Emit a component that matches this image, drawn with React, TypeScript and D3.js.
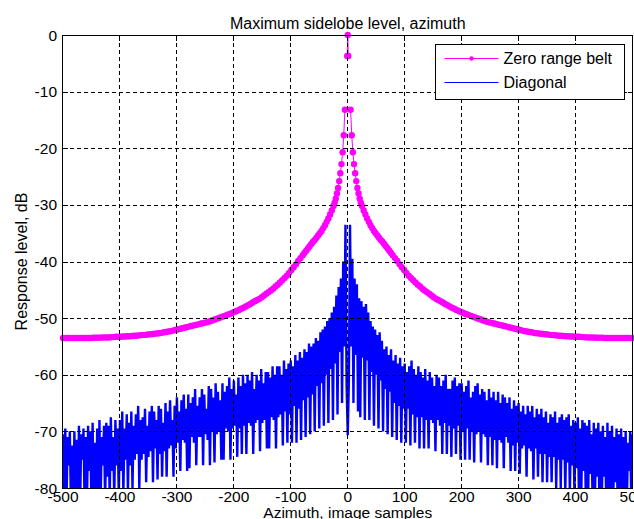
import React from 'react';
import * as d3 from 'd3';

const W = 634;
const H = 519;
const PLOT = { left: 63, right: 632.5, top: 35, bottom: 488 };
const FONT = '"Liberation Sans", Arial, Helvetica, sans-serif';
const FS = 16;
const FS_AXIS = 15.5;

const titleText = 'Maximum sidelobe level, azimuth';
const xLabelText = 'Azimuth, image samples';
const yLabelText = 'Response level, dB';
const seriesNames = ['Zero range belt', 'Diagonal'];
const seriesColors = ['#ff00ff', '#0000ff'];

const xTicks = [-500, -400, -300, -200, -100, 0, 100, 200, 300, 400, 500];
const yTicks = [0, -10, -20, -30, -40, -50, -60, -70, -80];

// Zero range belt: symmetric sidelobe-peak profile (offset in samples from 0, level in dB)
const beltOffsets = [
  0, 1, 3, 5, 7, 9, 11, 13, 15, 17, 19, 21, 23, 25,
  28, 31, 34, 37, 40, 43, 46, 49, 52, 55, 58, 61, 64, 67, 70, 73, 76, 79,
  83, 87, 91, 95, 99, 103, 107, 111, 115, 119, 123, 127, 131, 135, 139,
  143, 147, 151, 155, 159, 163, 167, 171, 175, 179, 183, 187, 191, 195, 199,
  203, 207, 211, 215, 219, 223, 227, 231, 235, 239, 243, 247, 251, 255, 259,
  263, 267, 271, 275, 279, 283, 287, 291, 295, 299, 303, 307, 311, 315, 319,
  323, 327, 331, 335, 339, 343, 347, 351, 355, 359, 363, 367, 371, 375, 379,
  383, 387, 391, 395, 399, 403, 407, 411, 415, 419, 423, 427, 431, 435, 439,
  443, 447, 451, 455, 459, 463, 467, 471, 475, 479, 483, 487, 491, 495, 500,
];
const beltLevels: (number | null)[] = [
  0, -3.7, null, -13.2, -17.7, -20.7, -22.8, -24.4, -25.8, -27, -28, -28.9, -29.6, -30.2,
  -31, -31.7, -32.4, -33, -33.6, -34.1, -34.6, -35, -35.4, -35.8, -36.2, -36.5, -36.9, -37.3, -37.7, -38.1, -38.5, -38.9,
  -39.4, -39.9, -40.5, -41, -41.5, -42, -42.5, -42.9, -43.3, -43.7, -44.1, -44.4, -44.8, -45.1, -45.4,
  -45.7, -46, -46.3, -46.6, -46.8, -47, -47.25, -47.5, -47.7, -47.95, -48.15, -48.35, -48.55, -48.75, -48.9,
  -49.1, -49.25, -49.4, -49.55, -49.7, -49.85, -50, -50.15, -50.3, -50.45, -50.6, -50.7, -50.8, -50.9, -51,
  -51.1, -51.2, -51.3, -51.4, -51.5, -51.6, -51.7, -51.8, -51.9, -52, -52.1, -52.2, -52.3, -52.35, -52.45,
  -52.5, -52.6, -52.65, -52.7, -52.75, -52.8, -52.85, -52.9, -52.95, -53, -53, -53.05, -53.1, -53.1, -53.15,
  -53.2, -53.2, -53.25, -53.25, -53.3, -53.3, -53.3, -53.35, -53.35, -53.4, -53.4, -53.4, -53.4, -53.45, -53.45,
  -53.45, -53.45, -53.5, -53.5, -53.5, -53.5, -53.5, -53.5, -53.5, -53.5, -53.5, -53.5, -53.5, -53.5, -53.5,
];

// Diagonal: response at every 2nd azimuth sample, -500 ... 500
const diagonalSamples = d3.range(-500, 501, 2);
const diagonalDb = [
  -70.5, -84, -69.5, -84, -71, -76, -70, -84, -72.5, -84,
  -70, -84, -71.5, -84, -69, -84, -70.5, -75, -69.5, -84,
  -71, -84, -69, -77, -70, -84, -68.5, -84, -72, -84,
  -69.5, -83, -68, -83, -71, -76, -69, -83, -68.5, -78,
  -69, -82, -67.5, -77, -71, -82, -68, -76, -69.5, -82,
  -68, -77, -66.5, -81, -69.5, -75, -67, -81, -68.5, -76,
  -66.5, -80, -69, -75, -67, -74, -65.5, -80, -68, -75,
  -67.5, -74, -66, -79, -69, -74.5, -66.5, -73.5, -65.5, -79,
  -66.5, -73, -68, -78.5, -65.5, -74, -66, -78, -68.5, -73.5,
  -65, -78, -66.5, -73, -64.5, -72.5, -68, -78, -65.5, -73,
  -64, -72, -66.5, -77, -64.5, -71.5, -63.5, -72, -66, -77,
  -63.5, -76.5, -65, -71, -64, -72, -62.5, -76, -65.5, -71,
  -64, -71, -62.5, -76, -63.5, -70.5, -66, -71.5, -62, -76,
  -62.5, -70, -64, -75.5, -61.5, -70.5, -63, -70, -64.5, -75,
  -61.5, -75, -63, -69.5, -62, -70, -60.5, -75, -62.5, -69.5,
  -61, -69, -63.5, -74.5, -60.5, -69.5, -62, -74, -60, -69,
  -61.5, -74, -60, -68.5, -61, -69, -59.5, -74, -62.5, -68.5,
  -60, -68, -61, -73.5, -59, -68.5, -61.5, -68, -59.5, -73,
  -59.5, -73, -60.5, -67.5, -58.5, -68, -60, -73, -58.5, -67.5,
  -58.5, -67, -60, -72.5, -57.5, -66.5, -59, -72, -58, -67,
  -57.5, -72, -58.5, -65.5, -56.5, -72, -57.5, -66, -56, -71.5,
  -57, -64.5, -55.5, -71, -56, -64, -54.5, -70.5, -55, -63.5,
  -54.5, -70, -53.5, -62, -54, -69.5, -52.5, -61.5, -52, -69,
  -51.5, -60, -50.5, -68.5, -50, -59, -49, -68, -48, -58,
  -46, -67, -44.5, -56, -43, -65, -40, -55, -33.5, -62,
  -70.7, -61, -33.5, -55, -39.5, -65, -43, -56.5, -44, -66.5,
  -46.5, -67.5, -47, -57, -48, -68, -47.5, -57.5, -49, -68,
  -50.5, -59.5, -51.5, -69, -52, -60, -53, -69.5, -52.5, -61,
  -54, -70, -55.5, -62.5, -55, -70.5, -56.5, -63, -55.5, -71,
  -57.5, -65, -56.5, -71.5, -58, -65.5, -57, -72, -58.5, -66,
  -58, -72, -59.5, -66, -58.5, -72.5, -57.5, -67, -59, -72,
  -60, -67.5, -58.5, -73, -59.5, -67.5, -60.5, -73, -59, -68,
  -61, -73, -59.5, -68, -60.5, -68.5, -62, -73.5, -60, -68,
  -60.5, -69, -62, -74, -61, -68.5, -60, -74, -62.5, -69,
  -62.5, -74.5, -61, -69.5, -60.5, -74, -62, -69, -61.5, -75,
  -61.5, -70, -63, -75, -62, -69.5, -61, -75, -64, -70,
  -63, -75.5, -62, -70.5, -61.5, -70, -63.5, -75.5, -62.5, -70.5,
  -63, -71, -64.5, -76, -62.5, -71, -64, -76, -63, -71.5,
  -64.5, -76.5, -63, -71.5, -65, -72, -63.5, -76.5, -64, -71,
  -65, -72, -64, -77, -66, -72.5, -64.5, -77, -65.5, -72,
  -65, -77.5, -66.5, -73, -65.5, -72.5, -67, -78, -65.5, -73,
  -66.5, -73.5, -65.5, -78.5, -67.5, -73, -66, -78, -67, -74,
  -66, -79, -67.5, -74, -66.5, -79, -68.5, -74.5, -67, -79,
  -67.5, -74.5, -66.5, -80, -68.5, -75, -67.5, -80, -67, -75,
  -68, -81, -67.5, -75.5, -67, -81, -69, -76, -68, -81,
  -68.5, -76.5, -67.5, -82, -69.5, -82, -68, -77, -68.5, -82,
  -69, -83, -68, -77.5, -70.5, -83, -68.5, -83, -69.5, -78,
  -68.5, -84, -70, -84, -69, -78, -71, -84, -68.5, -84,
  -70, -84, -69, -84, -71, -79, -69.5, -84, -70.5, -84,
  -69.5, -84, -71, -84, -70, -84, -72, -77, -70, -84,
  -70.5,
];

type Pt = [number, number | null];

export default function App() {
  const x = d3.scaleLinear().domain([-500, 500]).range([PLOT.left, PLOT.right]);
  const y = d3.scaleLinear().domain([-80, 0]).range([PLOT.bottom, PLOT.top]);

  const n = Math.min(beltOffsets.length, beltLevels.length);
  const belt: Pt[] = [];
  for (let i = n - 1; i >= 1; i--) belt.push([-beltOffsets[i], beltLevels[i]]);
  belt.push([0, beltLevels[0]]);
  for (let i = 1; i < n; i++) belt.push([beltOffsets[i], beltLevels[i]]);

  const diag: Pt[] = diagonalSamples
    .slice(0, diagonalDb.length)
    .map((s, i) => [s, diagonalDb[i]] as Pt);

  const line = d3
    .line<Pt>()
    .defined((d) => d[1] != null)
    .x((d) => x(d[0]))
    .y((d) => y(d[1] as number));

  const snap = (v: number) => Math.round(v) + 0.5;
  const L = snap(PLOT.left) - 1;
  const R = snap(PLOT.right) - 1;
  const T = snap(PLOT.top);
  const B = snap(PLOT.bottom);
  const tick = 5;

  const legend = { x: 435.5, y: 44.5, w: 189, h: 55 };

  return (
    <svg
      width={W}
      height={H}
      viewBox={`0 0 ${W} ${H}`}
      style={{ position: 'absolute', left: 0, top: 0, background: '#fff' }}
      fontFamily={FONT}
      fontSize={FS}
    >
      <defs>
        <clipPath id="plotClip">
          <rect x={L} y={T} width={R - L} height={B - T} />
        </clipPath>
      </defs>
      <rect x={0} y={0} width={W} height={H} fill="#fff" />

      {/* data */}
      <path
        d={line(diag) || ''}
        fill="none"
        stroke={seriesColors[1]}
        strokeWidth={2.4}
        clipPath="url(#plotClip)"
      />
      <path d={line(belt) || ''} fill="none" stroke={seriesColors[0]} strokeWidth={1} />
      {belt
        .filter((d) => d[1] != null)
        .map((d, i) => (
          <circle key={i} cx={x(d[0])} cy={y(d[1] as number)} r={3.2} fill={seriesColors[0]} />
        ))}

      {/* grid on top */}
      <g stroke="#000" strokeWidth={1} strokeDasharray="4,3" shapeRendering="crispEdges">
        {xTicks
          .filter((t) => t !== -500 && t !== 500)
          .map((t) => (
            <line key={'gx' + t} x1={snap(x(t)) - 1} x2={snap(x(t)) - 1} y1={T} y2={B} />
          ))}
        {yTicks
          .filter((t) => t !== 0 && t !== -80)
          .map((t) => (
            <line key={'gy' + t} x1={L} x2={R} y1={snap(y(t))} y2={snap(y(t))} />
          ))}
      </g>

      {/* frame and ticks */}
      <g stroke="#000" strokeWidth={1} shapeRendering="crispEdges" fill="none">
        <rect x={L} y={T} width={R - L} height={B - T} />
        {xTicks.map((t) => (
          <g key={'tx' + t}>
            <line x1={snap(x(t)) - 1} x2={snap(x(t)) - 1} y1={B} y2={B - tick} />
            <line x1={snap(x(t)) - 1} x2={snap(x(t)) - 1} y1={T} y2={T + tick} />
          </g>
        ))}
        {yTicks.map((t) => (
          <g key={'ty' + t}>
            <line x1={L} x2={L + tick} y1={snap(y(t))} y2={snap(y(t))} />
            <line x1={R} x2={R - tick} y1={snap(y(t))} y2={snap(y(t))} />
          </g>
        ))}
      </g>

      {/* tick labels */}
      <g fill="#000" fontSize={FS_AXIS}>
        {xTicks.map((t) => (
          <text key={'lx' + t} x={x(t)} y={502} textAnchor="middle">
            {t}
          </text>
        ))}
        {yTicks.map((t) => (
          <text key={'ly' + t} x={57} y={y(t)} dy="0.36em" textAnchor="end">
            {t}
          </text>
        ))}
      </g>

      {/* titles */}
      <text x={(PLOT.left + PLOT.right) / 2} y={29} textAnchor="middle" fill="#000">
        {titleText}
      </text>
      <text x={(PLOT.left + PLOT.right) / 2} y={517.5} textAnchor="middle" fill="#000" fontSize={FS_AXIS}>
        {xLabelText}
      </text>
      <text
        transform={`translate(27, ${(PLOT.top + PLOT.bottom) / 2}) rotate(-90)`}
        textAnchor="middle"
        fill="#000"
      >
        {yLabelText}
      </text>

      {/* legend */}
      <g>
        <rect x={legend.x} y={legend.y} width={legend.w} height={legend.h} fill="#fff" stroke="#000" strokeWidth={1} shapeRendering="crispEdges" />
        <line x1={legend.x + 9} x2={legend.x + 63} y1={58.5} y2={58.5} stroke={seriesColors[0]} strokeWidth={1} />
        <circle cx={legend.x + 36} cy={58.5} r={2.2} fill={seriesColors[0]} />
        <text x={legend.x + 68} y={58.5} dy="0.36em" fill="#000">
          {seriesNames[0]}
        </text>
        <line x1={legend.x + 9} x2={legend.x + 63} y1={82.5} y2={82.5} stroke={seriesColors[1]} strokeWidth={1} />
        <text x={legend.x + 68} y={82.5} dy="0.36em" fill="#000">
          {seriesNames[1]}
        </text>
      </g>
    </svg>
  );
}
